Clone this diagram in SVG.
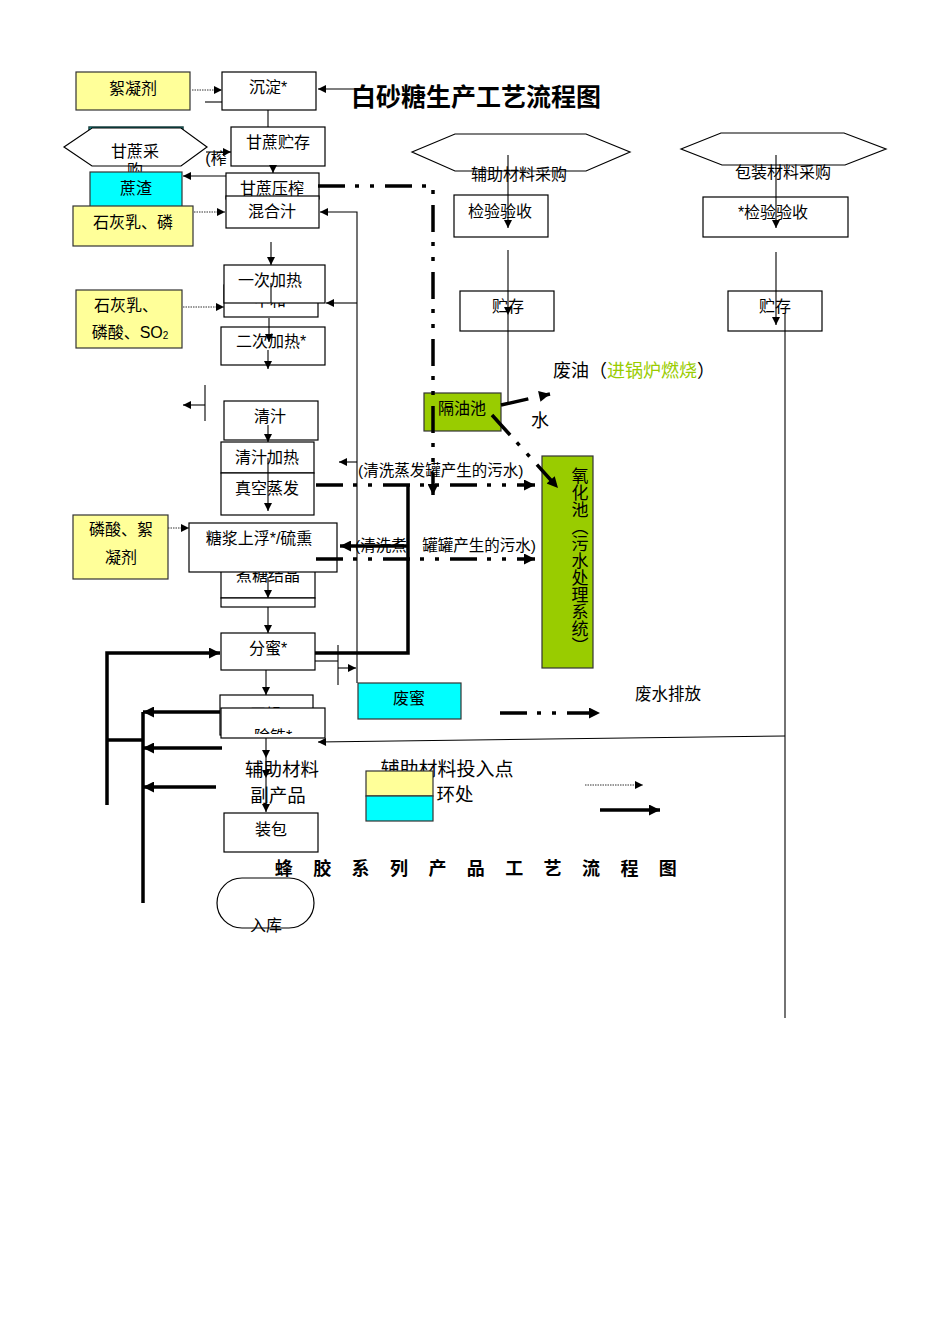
<svg xmlns="http://www.w3.org/2000/svg" width="950" height="1344" viewBox="0 0 950 1344">
<style>
text{font-family:"Liberation Sans","Noto Sans CJK SC",sans-serif;font-size:16px;fill:#000;text-anchor:middle;dominant-baseline:central}
.b{fill:#fff;stroke:#000;stroke-width:1.2}
.y{fill:#FFFF99;stroke:#333;stroke-width:1.2}
.c{fill:#00FFFF;stroke:#333;stroke-width:1.2}
.g{fill:#99CC00;stroke:#333;stroke-width:1.2}
.t{fill:none;stroke:#000;stroke-width:1.1}
.d{fill:none;stroke:#333;stroke-width:1;stroke-dasharray:1.5 1}
.k{fill:none;stroke:#000;stroke-width:3.5}
.dd{fill:none;stroke:#000;stroke-width:3.5;stroke-dasharray:27 10 4 11 4 11}
</style>
<defs>
<marker id="a" viewBox="0 0 10 10" refX="10" refY="5" markerWidth="9" markerHeight="8" markerUnits="userSpaceOnUse" orient="auto"><path d="M0,0L10,5L0,10z" fill="#000"/></marker>
<marker id="h" viewBox="0 0 10 10" refX="10" refY="5" markerWidth="13" markerHeight="11" markerUnits="userSpaceOnUse" orient="auto"><path d="M0,0L10,5L0,10z" fill="#000"/></marker>
<clipPath id="cl"><rect x="221" y="708" width="104" height="26"/></clipPath>
</defs>
<rect width="950" height="1344" fill="#fff"/>

<g id="titles">
<text x="476" y="97" style="font-size:25px;font-weight:bold">白砂糖生产工艺流程图</text>
<text x="486" y="869" style="font-size:18px;font-weight:bold;letter-spacing:20.4px">蜂胶系列产品工艺流程图</text>
</g>

<g id="n-xnj"><rect class="y" x="76" y="72" width="114" height="38"/><text x="133" y="88">絮凝剂</text></g>
<g id="n-cd"><rect class="b" x="222" y="72" width="94" height="38"/><text x="268" y="87">沉淀*</text></g>
<g id="n-back"><rect x="89" y="127" width="94" height="12" fill="#00FFFF" stroke="#1b4040" stroke-width="1.5"/></g>
<g id="n-gzcg"><polygon class="b" points="64,147 92,128 181,128 207,147 181,166 92,166"/><text x="135" y="151">甘蔗采</text><text x="135" y="170">购</text></g>
<g id="n-zj"><text x="216" y="158">(榨</text></g>
<g id="n-gzzc"><rect class="b" x="231" y="127" width="94" height="39"/><text x="278" y="142">甘蔗贮存</text></g>
<g id="n-gzyz"><rect class="b" x="226" y="173" width="93" height="26"/><text x="272" y="188">甘蔗压榨</text></g>
<g id="n-hhz"><rect class="b" x="226" y="196" width="93" height="32"/><text x="272" y="211">混合汁</text></g>
<g id="n-zz"><rect class="c" x="90" y="172" width="92" height="37"/><text x="136" y="188">蔗渣</text></g>
<g id="n-shr1"><rect class="y" x="73" y="206" width="120" height="40"/><text x="133" y="222">石灰乳、磷</text></g>
<g id="n-zh"><rect class="b" x="224" y="285" width="94" height="32"/><text x="270" y="300">中和</text></g>
<g id="n-ycjr"><rect class="b" x="224" y="265" width="101" height="38"/><text x="270" y="280">一次加热</text></g>
<g id="n-shr2"><rect class="y" x="76" y="290" width="106" height="58"/><text x="126" y="305">石灰乳、</text><text x="130" y="332">磷酸、SO<tspan style="font-size:10px" dy="3">2</tspan></text></g>
<g id="n-ecjr"><rect class="b" x="221" y="327" width="104" height="38"/><text x="271" y="341">二次加热*</text></g>
<g id="n-qz"><rect class="b" x="224" y="401" width="94" height="39"/><text x="270" y="416">清汁</text></g>
<g id="n-qzjr"><rect class="b" x="221" y="442" width="93" height="31"/><text x="267" y="457">清汁加热</text></g>
<g id="n-zkzf"><rect class="b" x="221" y="473" width="93" height="42"/><text x="267" y="488">真空蒸发</text></g>
<g id="n-lsxnj"><rect class="y" x="73" y="515" width="95" height="64"/><text x="121" y="529">磷酸、絮</text><text x="121" y="557">凝剂</text></g>
<g id="n-ztjj"><rect class="b" x="221" y="545" width="94" height="53"/><rect class="b" x="221" y="598" width="94" height="9"/><text x="268" y="575">煮糖结晶</text></g>
<g id="n-tjsf"><rect class="b" x="189" y="523" width="148" height="49"/><text x="259" y="538">糖浆上浮*/硫熏</text></g>
<g id="n-fm"><rect class="b" x="221" y="633" width="94" height="37"/><text x="268" y="648">分蜜*</text></g>
<g id="n-fmi"><rect class="c" x="358" y="683" width="103" height="36"/><text x="409" y="698">废蜜</text></g>
<g id="n-gz"><rect class="b" x="220" y="695" width="93" height="40"/><text x="266" y="714">干燥</text></g>
<g id="n-ct"><rect class="b" x="221" y="708" width="104" height="30"/><text x="273" y="736" clip-path="url(#cl)">除铁*</text></g>
<g id="n-fzcl"><text x="282" y="769" style="font-size:18.5px">辅助材料</text><text x="278" y="795" style="font-size:18.5px">副产品</text></g>
<g id="n-zb"><rect class="b" x="224" y="813" width="94" height="39"/><text x="271" y="829">装包</text></g>
<g id="n-rk"><rect class="b" x="217" y="878" width="97" height="50" rx="25" ry="25"/><text x="266" y="925">入库</text></g>

<g id="n-fzcg"><polygon class="b" points="412,152 455,134 586,134 630,152 586,171 455,171"/><text x="519" y="174">辅助材料采购</text></g>
<g id="n-jyys1"><rect class="b" x="454" y="195" width="94" height="42"/><text x="500" y="211">检验验收</text></g>
<g id="n-zc1"><rect class="b" x="460" y="291" width="94" height="40"/><text x="508" y="306">贮存</text></g>
<g id="n-bzcg"><polygon class="b" points="681,149 721,133 844,133 886,149 845,165 722,165"/><text x="783" y="172">包装材料采购</text></g>
<g id="n-jyys2"><rect class="b" x="703" y="197" width="145" height="40"/><text x="773" y="212">*检验验收</text></g>
<g id="n-zc2"><rect class="b" x="728" y="291" width="94" height="40"/><text x="775" y="306">贮存</text></g>
<g id="n-gyc"><rect class="g" x="424" y="393" width="77" height="38"/><text x="462" y="408">隔油池</text></g>
<g id="n-fy"><text x="553" y="371" style="font-size:18px;text-anchor:start">废油（<tspan fill="#99CC00">进锅炉燃烧</tspan>）</text><text x="540" y="421" style="font-size:18px">水</text></g>
<g id="n-yhc"><rect class="g" x="542" y="456" width="51" height="212"/><text x="578" y="467" style="font-size:17px;writing-mode:vertical-rl;text-anchor:start">氧化池（污水处理系统）</text></g>
<g id="n-wsl"><text x="358" y="470" style="font-size:15.5px;text-anchor:start">(清洗蒸发罐产生的污水)</text><text x="355" y="545" style="font-size:15.5px;text-anchor:start">(清洗煮　罐罐产生的污水)</text></g>

<g id="legend">
<text x="447" y="769" style="font-size:19px">辅助材料投入点</text>
<rect class="y" x="366" y="771" width="67" height="25"/>
<rect class="c" x="366" y="796" width="67" height="25"/>
<text x="455" y="794" style="font-size:18.5px">环处</text>
<text x="668" y="694" style="font-size:16.5px">废水排放</text>
</g>

<g id="connectors">
<path class="d" d="M192,90H222" marker-end="url(#a)"/>
<path class="t" d="M205,102H222"/>
<path class="t" d="M366,89H318" marker-end="url(#a)"/>
<path class="t" d="M268,110V127"/>
<path class="t" d="M206,152H231" marker-end="url(#a)"/>
<path class="t" d="M273,166V173" marker-end="url(#a)"/>
<path class="t" d="M226,176H183" marker-end="url(#a)"/>
<path class="d" d="M194,212H225" marker-end="url(#a)"/>
<path class="t" d="M357,683V212H320" marker-end="url(#a)"/>
<path class="t" d="M271,242V265" marker-end="url(#a)"/>
<path class="t" d="M271,283V303"/>
<path class="d" d="M183,307H224" marker-end="url(#a)"/>
<path class="t" d="M357,303H326" marker-end="url(#a)"/>
<path class="t" d="M269,318V342" marker-end="url(#a)"/>
<path class="t" d="M268,350V369" marker-end="url(#a)"/>
<path class="t" d="M205,385V421"/>
<path class="t" d="M205,405H183" marker-end="url(#a)"/>
<path class="t" d="M268,425V442" marker-end="url(#a)"/>
<path class="t" d="M268,458V511" marker-end="url(#a)"/>
<path class="t" d="M357,462H339" marker-end="url(#a)"/>
<path class="d" d="M168,528H189" marker-end="url(#a)"/>
<path class="t" d="M268,577V598" marker-end="url(#a)"/>
<path class="t" d="M268,607V633" marker-end="url(#a)"/>
<path class="t" d="M315,661H338"/>
<path class="t" d="M338,645V685"/>
<path class="t" d="M338,668H356" marker-end="url(#a)"/>
<path class="t" d="M266,670V695" marker-end="url(#a)"/>
<path class="t" d="M266,738V758" marker-end="url(#a)"/>
<path class="t" d="M266,758V778" marker-end="url(#a)"/>
<path class="t" d="M266,778V812" marker-end="url(#a)"/>
<path class="t" d="M785,736L318,742" marker-end="url(#a)"/>
<path class="t" d="M785,313V1018"/>
<path class="t" d="M508,155V228" marker-end="url(#a)"/>
<path class="t" d="M508,250V315" marker-end="url(#a)"/>
<path class="t" d="M508,315V403"/>
<path class="t" d="M776,155V228" marker-end="url(#a)"/>
<path class="t" d="M776,252V325" marker-end="url(#a)"/>
<path class="d" d="M585,785H643" marker-end="url(#a)"/>

<path class="dd" d="M318,186H433V495" marker-end="url(#h)"/>
<path class="dd" d="M316,485H535" marker-end="url(#h)"/>
<path class="dd" d="M316,559H535" marker-end="url(#h)"/>
<path class="dd" d="M500,713H600" marker-end="url(#h)"/>
<path class="k" d="M501,405L550,394" style="stroke-dasharray:28 12" marker-end="url(#h)"/>
<path class="dd" d="M492,415L558,488" marker-end="url(#h)"/>
<path class="k" d="M408,485V653H315"/>
<path class="k" d="M408,546H340" marker-end="url(#h)"/>
<path class="k" d="M107,805V653H220" marker-end="url(#h)"/>
<path class="k" d="M107,740H143"/>
<path class="k" d="M143,712V903"/>
<path class="k" d="M220,712H143" marker-end="url(#h)"/>
<path class="k" d="M222,748H143" marker-end="url(#h)"/>
<path class="k" d="M216,787H143" marker-end="url(#h)"/>
<path class="k" d="M600,810H660" marker-end="url(#h)"/>
</g>
</svg>
